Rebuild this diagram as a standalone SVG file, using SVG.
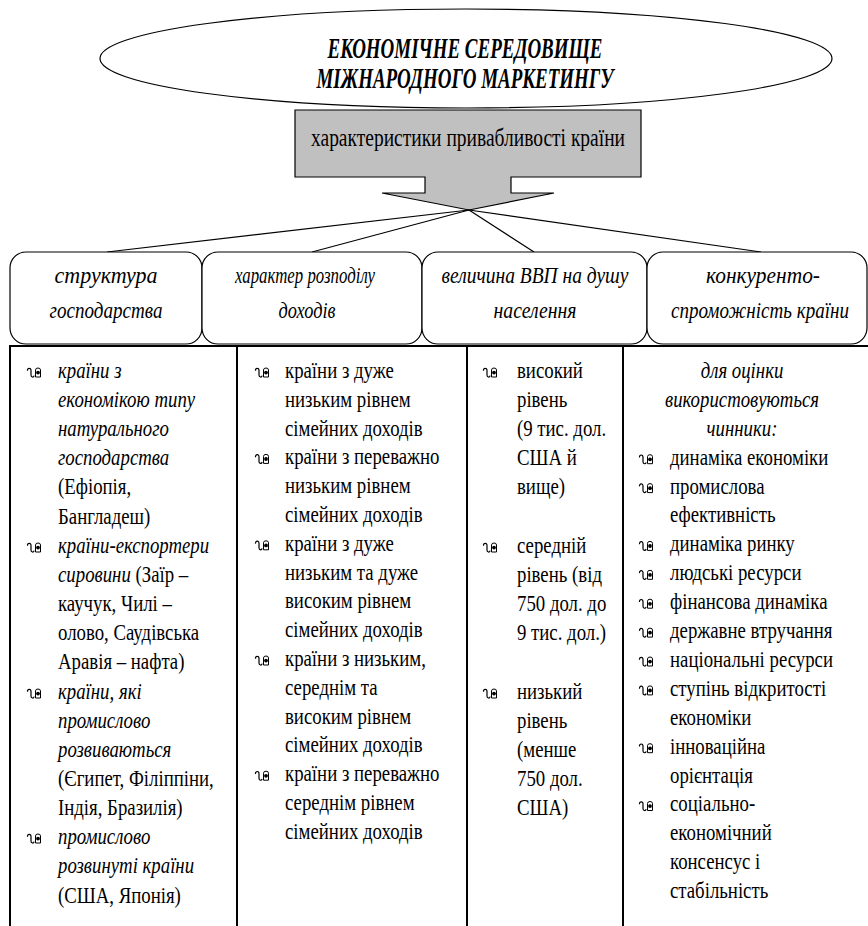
<svg xmlns="http://www.w3.org/2000/svg" width="868" height="926" viewBox="0 0 868 926">
<style>
text{font-family:"Liberation Serif","Times New Roman",serif;fill:#000}
.c{font-size:23.5px}
.i{font-style:italic}
.h{font-size:30px;font-weight:bold;font-style:italic}
.lbl{font-size:24px;font-style:italic}
.g{font-size:26px}
.ln{stroke:#000;stroke-width:1.2;fill:none}
.tb{stroke:#000;stroke-width:2;fill:none}
.bx{fill:#fff;stroke:#000;stroke-width:1.2}
</style>
<defs>
<g id="bul">
<path d="M1.5,3.8 C1.2,0.6 5,0.4 5,3.5 L5,8 C5,10.6 7.6,10.6 8.2,8.6" fill="none" stroke="#000" stroke-width="1.2"/>
<path d="M9.5,10 L9.5,3 Q9.5,1 12,1 Q14.5,1 14.5,3 L14.5,10 Z" fill="#fff" stroke="#000" stroke-width="1"/>
<circle cx="12" cy="5.6" r="1.9" fill="#000"/>
</g>
</defs>

<g id="root">
<ellipse cx="466" cy="58.5" rx="366" ry="49.5" fill="#fff" stroke="#000" stroke-width="1.2"/>
<text class="h" x="465" y="58" text-anchor="middle" textLength="275" lengthAdjust="spacingAndGlyphs">ЕКОНОМІЧНЕ СЕРЕДОВИЩЕ</text>
<text class="h" x="465" y="88" text-anchor="middle" textLength="297" lengthAdjust="spacingAndGlyphs">МІЖНАРОДНОГО МАРКЕТИНГУ</text>
</g>

<g id="attract">
<polygon points="295,110 641,110 641,177 511,177 511,193 554,193 469,210 382,193 425,193 425,177 295,177" fill="#c0c0c0" stroke="#000" stroke-width="1.2"/>
<text class="g" x="468" y="146" text-anchor="middle" textLength="314" lengthAdjust="spacingAndGlyphs">характеристики привабливості країни</text>
</g>

<g id="connectors">
<line class="ln" x1="469" y1="210" x2="107" y2="252"/>
<line class="ln" x1="469" y1="210" x2="312" y2="252"/>
<line class="ln" x1="469" y1="210" x2="534" y2="252"/>
<line class="ln" x1="469" y1="210" x2="761" y2="252"/>
</g>

<g id="box1">
<rect class="bx" x="10" y="252" width="192" height="92" rx="16"/>
<text class="lbl" x="106" y="283" text-anchor="middle" textLength="103" lengthAdjust="spacingAndGlyphs">структура</text>
<text class="lbl" x="106" y="318" text-anchor="middle" textLength="113" lengthAdjust="spacingAndGlyphs">господарства</text>
</g>
<g id="box2">
<rect class="bx" x="202" y="252" width="220" height="92" rx="16"/>
<text class="lbl" x="305" y="283" text-anchor="middle" textLength="140" lengthAdjust="spacingAndGlyphs">характер розподілу</text>
<text class="lbl" x="307" y="318" text-anchor="middle" textLength="57" lengthAdjust="spacingAndGlyphs">доходів</text>
</g>
<g id="box3">
<rect class="bx" x="422" y="252" width="225" height="92" rx="16"/>
<text class="lbl" x="535" y="283" text-anchor="middle" textLength="187" lengthAdjust="spacingAndGlyphs">величина ВВП на душу</text>
<text class="lbl" x="535" y="318" text-anchor="middle" textLength="83" lengthAdjust="spacingAndGlyphs">населення</text>
</g>
<g id="box4">
<rect class="bx" x="647" y="252" width="220" height="92" rx="16"/>
<text class="lbl" x="763" y="283" text-anchor="middle" textLength="114" lengthAdjust="spacingAndGlyphs">конкуренто-</text>
<text class="lbl" x="760" y="318" text-anchor="middle" textLength="178" lengthAdjust="spacingAndGlyphs">спроможність країни</text>
</g>

<g id="table">
<line class="tb" x1="10" y1="346" x2="868" y2="346"/>
<line class="tb" x1="10" y1="345" x2="10" y2="926"/>
<line class="tb" x1="237" y1="345" x2="237" y2="926"/>
<line class="tb" x1="467" y1="345" x2="467" y2="926"/>
<line class="tb" x1="623" y1="345" x2="623" y2="926"/>
</g>

<g id="col1">
<use href="#bul" x="26" y="367"/>
<use href="#bul" x="26" y="542"/>
<use href="#bul" x="26" y="688"/>
<use href="#bul" x="26" y="833"/>
<g transform="translate(58 0) scale(0.8 1)">
<text class="c i" x="0" y="378">країни з</text>
<text class="c i" x="0" y="407">економікою типу</text>
<text class="c i" x="0" y="436">натурального</text>
<text class="c i" x="0" y="465.5">господарства</text>
<text class="c" x="0" y="494.5">(Ефіопія,</text>
<text class="c" x="0" y="524">Бангладеш)</text>
<text class="c i" x="0" y="553">країни-експортери</text>
<text class="c" x="0" y="582"><tspan class="i">сировини</tspan> (Заїр –</text>
<text class="c" x="0" y="611">каучук, Чилі –</text>
<text class="c" x="0" y="640">олово, Саудівська</text>
<text class="c" x="0" y="669.5">Аравія – нафта)</text>
<text class="c i" x="0" y="699">країни, які</text>
<text class="c i" x="0" y="728">промислово</text>
<text class="c i" x="0" y="757">розвиваються</text>
<text class="c" x="0" y="786">(Єгипет, Філіппіни,</text>
<text class="c" x="0" y="815">Індія, Бразилія)</text>
<text class="c i" x="0" y="844.5">промислово</text>
<text class="c i" x="0" y="873.5">розвинуті країни</text>
<text class="c" x="0" y="903">(США, Японія)</text>
</g>
</g>

<g id="col2">
<use href="#bul" x="254" y="367"/>
<use href="#bul" x="254" y="453.4"/>
<use href="#bul" x="254" y="539.8"/>
<use href="#bul" x="254" y="655"/>
<use href="#bul" x="254" y="770.2"/>
<g transform="translate(285 0) scale(0.8 1)">
<text class="c" x="0" y="378">країни з дуже</text>
<text class="c" x="0" y="406.8">низьким рівнем</text>
<text class="c" x="0" y="435.6">сімейних доходів</text>
<text class="c" x="0" y="464.4">країни з переважно</text>
<text class="c" x="0" y="493.2">низьким рівнем</text>
<text class="c" x="0" y="522">сімейних доходів</text>
<text class="c" x="0" y="550.8">країни з дуже</text>
<text class="c" x="0" y="579.6">низьким та дуже</text>
<text class="c" x="0" y="608.4">високим рівнем</text>
<text class="c" x="0" y="637.2">сімейних доходів</text>
<text class="c" x="0" y="666">країни з низьким,</text>
<text class="c" x="0" y="694.8">середнім та</text>
<text class="c" x="0" y="723.6">високим рівнем</text>
<text class="c" x="0" y="752.4">сімейних доходів</text>
<text class="c" x="0" y="781.2">країни з переважно</text>
<text class="c" x="0" y="810">середнім рівнем</text>
<text class="c" x="0" y="838.8">сімейних доходів</text>
</g>
</g>

<g id="col3">
<use href="#bul" x="482" y="367"/>
<use href="#bul" x="482" y="542"/>
<use href="#bul" x="482" y="688"/>
<g transform="translate(517 0) scale(0.8 1)">
<text class="c" x="0" y="378">високий</text>
<text class="c" x="0" y="407">рівень</text>
<text class="c" x="0" y="436">(9 тис. дол.</text>
<text class="c" x="0" y="465.5">США й</text>
<text class="c" x="0" y="494.5">вище)</text>
<text class="c" x="0" y="553">середній</text>
<text class="c" x="0" y="582">рівень (від</text>
<text class="c" x="0" y="611">750 дол. до</text>
<text class="c" x="0" y="640">9 тис. дол.)</text>
<text class="c" x="0" y="699">низький</text>
<text class="c" x="0" y="728">рівень</text>
<text class="c" x="0" y="757">(менше</text>
<text class="c" x="0" y="786">750 дол.</text>
<text class="c" x="0" y="815">США)</text>
</g>
</g>

<g id="col4">
<g transform="translate(742 0) scale(0.8 1)">
<text class="c i" x="0" y="378" text-anchor="middle">для оцінки</text>
<text class="c i" x="0" y="407" text-anchor="middle">використовуються</text>
<text class="c i" x="0" y="435.8" text-anchor="middle">чинники:</text>
</g>
<use href="#bul" x="638" y="453.7"/>
<use href="#bul" x="638" y="482.6"/>
<use href="#bul" x="638" y="540.4"/>
<use href="#bul" x="638" y="569.3"/>
<use href="#bul" x="638" y="598.2"/>
<use href="#bul" x="638" y="627.1"/>
<use href="#bul" x="638" y="656"/>
<use href="#bul" x="638" y="684.9"/>
<use href="#bul" x="638" y="742.7"/>
<use href="#bul" x="638" y="800.5"/>
<g transform="translate(670 0) scale(0.8 1)">
<text class="c" x="0" y="464.7">динаміка економіки</text>
<text class="c" x="0" y="493.6">промислова</text>
<text class="c" x="0" y="522.5">ефективність</text>
<text class="c" x="0" y="551.4">динаміка ринку</text>
<text class="c" x="0" y="580.3">людські ресурси</text>
<text class="c" x="0" y="609.2">фінансова динаміка</text>
<text class="c" x="0" y="638.1">державне втручання</text>
<text class="c" x="0" y="667">національні ресурси</text>
<text class="c" x="0" y="695.9">ступінь відкритості</text>
<text class="c" x="0" y="724.8">економіки</text>
<text class="c" x="0" y="753.7">інноваційна</text>
<text class="c" x="0" y="782.6">орієнтація</text>
<text class="c" x="0" y="811.5">соціально-</text>
<text class="c" x="0" y="840.4">економічний</text>
<text class="c" x="0" y="869.3">консенсус і</text>
<text class="c" x="0" y="898.2">стабільність</text>
</g>
</g>
</svg>
